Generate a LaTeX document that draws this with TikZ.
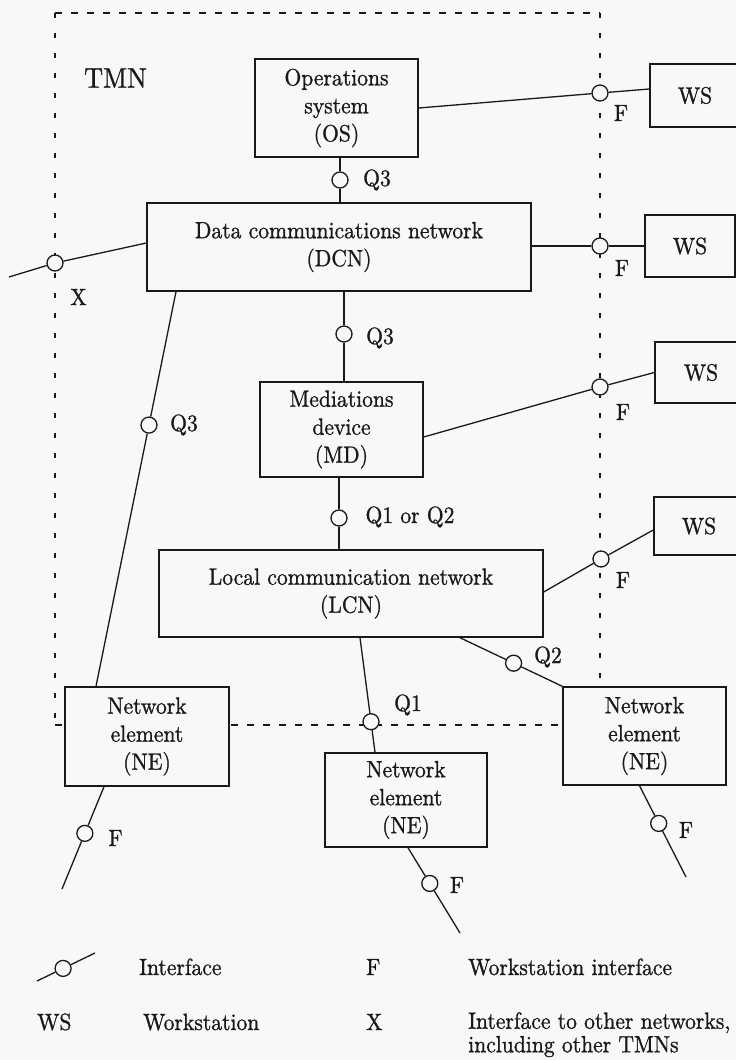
\documentclass[tikz,border=0pt]{standalone}
\usepackage{fontspec}
\setmainfont{lmroman10-regular.otf}[FakeBold=1.0, FakeStretch=0.92]
\usetikzlibrary{calc}
\definecolor{paper}{RGB}{248,248,246}
\definecolor{ink}{RGB}{25,25,25}
\tikzset{
  unit/.style={draw=ink, line width=1.4pt, fill=paper, align=center, inner sep=0pt,
               font=\fontsize{23.5}{28}\selectfont, text=ink},
  port/.style={circle, draw=ink, fill=paper, line width=1.3pt, inner sep=0pt, minimum size=16pt},
  link/.style={draw=ink, line width=1.3pt},
  tag/.style={font=\fontsize{23.5}{24}\selectfont, text=ink, inner sep=0pt},
  hborder/.style={draw=ink, line width=1.1pt, dash pattern=on 7pt off 9pt},
  vborder/.style={draw=ink, line width=1.1pt, dash pattern=on 5pt off 15pt},
}
\begin{document}
\begin{tikzpicture}[x=1pt,y=-1pt]
\useasboundingbox (0,0) rectangle (736,1060);
\fill[paper] (0,0) rectangle (736,1060);

% TMN boundary
\draw[hborder] (55,13) -- (600,13);
\draw[vborder] (55,13) -- (55,725);
\draw[vborder] (600,13) -- (600,725);
\draw[hborder] (55,725) -- (600,725);
\node[tag, font=\fontsize{28.5}{30}\selectfont] (tmn) at (115.5,78) {TMN};

% functional blocks
\node[unit, minimum width=163pt, minimum height=98pt] (os)  at (336.5,108)  {Operations\\system\\(OS)};
\node[unit, minimum width=384pt, minimum height=88pt] (dcn) at (339,247)    {Data communications network\\(DCN)};
\node[unit, minimum width=163pt, minimum height=95pt] (md)  at (341.5,429.5){Mediations\\device\\(MD)};
\node[unit, minimum width=384pt, minimum height=87pt] (lcn) at (351,593.5)  {Local communication network\\(LCN)};
\node[unit, minimum width=164pt, minimum height=99pt] (neL) at (147,736.5)  {Network\\element\\(NE)};
\node[unit, minimum width=162pt, minimum height=94pt] (neM) at (406,800)    {Network\\element\\(NE)};
\node[unit, minimum width=163pt, minimum height=98pt] (neR) at (644.5,736)  {Network\\element\\(NE)};

% workstations (running off the right edge)
\node[unit, minimum width=90pt, minimum height=63pt] (ws1) at (695,95.5)  {WS};
\node[unit, minimum width=90pt, minimum height=62pt] (ws2) at (690,246)   {WS};
\node[unit, minimum width=92pt, minimum height=61pt] (ws3) at (701,372.5) {WS};
\node[unit, minimum width=90pt, minimum height=58pt] (ws4) at (699,526)   {WS};

% interface points on straight vertical links
\node[port] (pOS)  at (340,180) {};
\node[port] (pMD)  at (344,334) {};
\node[port] (pLCN) at (339,518) {};

% interface points towards workstations
\node[port] (pF1) at (600,93)  {};
\node[port] (pF2) at (600,246) {};
\node[port] (pF3) at (600,387) {};
\node[port] (pF4) at (601,559) {};

% X interface
\coordinate (xa) at ([yshift=4pt]dcn.west);
\coordinate (xend) at (9,277);
\node[port] (pX) at (55,263) {};

% DCN to left NE
\coordinate (qa) at ([xshift=-163pt]dcn.south);
\coordinate (qb) at ([xshift=-51pt]neL.north);
\node[port] (pQ3) at ($(qa)!0.338!(qb)$) {};

% LCN to middle NE
\coordinate (q1a) at ([xshift=9pt]lcn.south);
\coordinate (q1b) at ([xshift=-31pt]neM.north);
\node[port] (pQ1) at ($(q1a)!0.733!(q1b)$) {};

% LCN to right NE
\coordinate (q2a) at ([xshift=109pt]lcn.south);
\node[port] (pQ2) at ($(q2a)!0.524!(neR.north west)$) {};

% F interfaces below the network elements
\coordinate (fLa) at ([xshift=-43pt]neL.south);
\coordinate (fLb) at (62,889);
\node[port] (pFL) at ($(fLa)!0.456!(fLb)$) {};
\coordinate (fMa) at ([xshift=2pt]neM.south);
\coordinate (fMb) at (460,933);
\node[port] (pFM) at ($(fMa)!0.419!(fMb)$) {};
\coordinate (fRa) at ([xshift=-5pt]neR.south);
\coordinate (fRb) at (686,877);
\node[port] (pFR) at ($(fRa)!0.413!(fRb)$) {};

% links
\draw[link] (os.south -| pOS) -- (pOS) -- (dcn.north -| pOS);
\draw[link] (dcn.south -| pMD) -- (pMD) -- (md.north -| pMD);
\draw[link] (md.south -| pLCN) -- (pLCN) -- (lcn.north -| pLCN);
\draw[link] (os.east) -- (pF1) -- ([yshift=6.5pt]ws1.west);
\draw[link] (dcn.east |- pF2) -- (pF2) -- (ws2.west |- pF2);
\draw[link] ([yshift=-7.5pt]md.east) -- (pF3) -- (ws3.west);
\draw[link] ([yshift=1.5pt]lcn.east) -- (pF4) -- ([yshift=-4pt]ws4.west);
\draw[link] (xa) -- (pX) -- (xend);
\draw[link] (qa) -- (pQ3) -- (qb);
\draw[link] (q1a) -- (pQ1) -- (q1b);
\draw[link] (q2a) -- (pQ2) -- (neR.north west);
\draw[link] (fLa) -- (pFL) -- (fLb);
\draw[link] (fMa) -- (pFM) -- (fMb);
\draw[link] (fRa) -- (pFR) -- (fRb);

% reference point labels
\node[tag] (lOS)  at (377,180) {Q3};
\node[tag] (lMD)  at (380,338) {Q3};
\node[tag] (lLCN) at (410,517) {Q1 or Q2};
\node[tag] (lQ3)  at (184,425) {Q3};
\node[tag] (lQ1)  at (408,705) {Q1};
\node[tag] (lQ2)  at (548,657) {Q2};
\node[tag] (lX)   at (78.5,297) {X};
\node[tag] (lF1)  at (621,113) {F};
\node[tag] (lF2)  at (622,268) {F};
\node[tag] (lF3)  at (623,412) {F};
\node[tag] (lF4)  at (623,580) {F};
\node[tag] (lFL)  at (115.5,838) {F};
\node[tag] (lFM)  at (457,885) {F};
\node[tag] (lFR)  at (686,830) {F};

% legend
\coordinate (ga) at (37,981);
\coordinate (gb) at (95,953);
\node[port] (pG) at ($(ga)!0.45!(gb)$) {};
\draw[link] (ga) -- (pG) -- (gb);
\node[tag, anchor=base west] (g1) at (139,975) {Interface};
\node[tag, anchor=base west] (g2) at (366,975) {F};
\node[tag, anchor=base west] (g3) at (468,975) {Workstation interface};
\node[tag, anchor=base west] (g4) at (37,1030) {WS};
\node[tag, anchor=base west] (g5) at (143,1030) {Workstation};
\node[tag, anchor=base west] (g6) at (366,1030) {X};
\node[tag, anchor=north west, align=left, font=\fontsize{23.5}{23.5}\selectfont] (g7) at (468,1012)
  {Interface to other networks,\\including other TMNs};
\end{tikzpicture}
\end{document}
